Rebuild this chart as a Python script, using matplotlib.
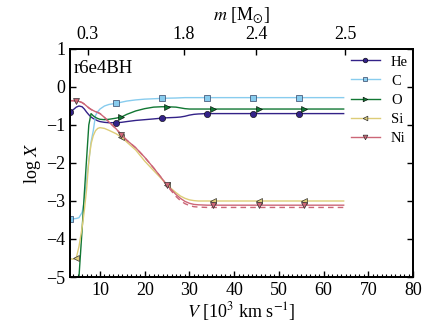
import matplotlib
matplotlib.use('Agg')
import matplotlib.pyplot as plt

plt.rcParams['font.family'] = ['Liberation Serif', 'DejaVu Serif']
plt.rcParams['mathtext.fontset'] = 'stix'

# Data (velocity grid in 10^3 km/s, log mass fractions)
v = [3.3, 4.0, 4.7, 5.3, 6.0, 6.5, 7.0, 7.5, 8.0, 8.5, 9.0, 9.5, 10.0, 11.0, 12.0,
     13.6, 14.8, 16.0, 18.0, 20.0, 22.0, 23.8, 25.0, 27.0, 28.0, 29.0, 30.0, 31.0,
     32.0, 34.0, 35.3, 40.0, 44.2, 45.5, 50.0, 54.4, 55.6, 60.0, 64.5]

he = [-0.65, -0.60, -0.53, -0.50, -0.52, -0.58, -0.66, -0.73, -0.79, -0.83, -0.86,
      -0.89, -0.91, -0.93, -0.94, -0.94, -0.93, -0.91, -0.88, -0.86, -0.84, -0.82,
      -0.81, -0.80, -0.79, -0.77, -0.74, -0.72, -0.71, -0.70, -0.70, -0.70, -0.70,
      -0.70, -0.70, -0.70, -0.70, -0.70, -0.70]
c = [-3.47, -3.47, -3.46, -3.44, -3.30, -3.00, -2.45, -1.95, -1.45, -1.15, -0.75,
     -0.65, -0.58, -0.50, -0.46, -0.43, -0.40, -0.37, -0.34, -0.32, -0.31, -0.30,
     -0.295, -0.29, -0.285, -0.28, -0.28, -0.28, -0.28, -0.28, -0.28, -0.28, -0.28,
     -0.28, -0.28, -0.28, -0.28, -0.28, -0.28]
o = [-7.0, -6.5, -5.8, -5.0, -3.75, -2.8, -1.9, -1.0, -0.70, -0.76, -0.80, -0.83,
     -0.85, -0.86, -0.85, -0.82, -0.79, -0.72, -0.63, -0.57, -0.53, -0.52, -0.52,
     -0.53, -0.55, -0.57, -0.58, -0.58, -0.58, -0.58, -0.58, -0.58, -0.58, -0.58,
     -0.58, -0.58, -0.58, -0.58, -0.58]
si = [-4.52, -4.53, -4.50, -4.20, -3.70, -3.25, -2.70, -1.95, -1.50, -1.28, -1.15,
      -1.09, -1.07, -1.09, -1.14, -1.23, -1.32, -1.45, -1.66, -1.95, -2.20, -2.42,
      -2.58, -2.78, -2.87, -2.93, -2.97, -2.99, -3.00, -3.00, -3.00, -3.00, -3.00,
      -3.00, -3.00, -3.00, -3.00, -3.00, -3.00]
ni = [-0.36, -0.36, -0.37, -0.38, -0.41, -0.45, -0.50, -0.55, -0.59, -0.62, -0.65,
      -0.67, -0.70, -0.80, -0.92, -1.10, -1.26, -1.40, -1.60, -1.85, -2.13, -2.40,
      -2.58, -2.83, -2.93, -3.01, -3.06, -3.09, -3.10, -3.11, -3.11, -3.11, -3.11,
      -3.11, -3.11, -3.11, -3.11, -3.11, -3.11]
ni_dashed = [-0.36, -0.36, -0.37, -0.38, -0.41, -0.45, -0.50, -0.55, -0.59, -0.62,
             -0.65, -0.67, -0.70, -0.80, -0.92, -1.10, -1.26, -1.40, -1.60, -1.85,
             -2.13, -2.40, -2.60, -2.88, -2.99, -3.07, -3.12, -3.15, -3.16, -3.17,
             -3.17, -3.17, -3.17, -3.17, -3.17, -3.17, -3.17, -3.17, -3.17]

marks_a = [0, 15, 21, 29, 32, 35]   # He, C
marks_b = [2, 16, 22, 30, 33, 36]   # O, Si, Ni

# top axis: enclosed mass labels at velocity positions
m_tick_v = [7.3, 28.8, 45.0, 64.8]
m_tick_labels = ['0.3', '1.8', '2.4', '2.5']

fig = plt.figure(figsize=(4.36, 3.27), dpi=100)
ax = fig.add_axes([0.1606, 0.1529, 0.7866, 0.6973])

ms = 4.5
ax.plot(v, ni_dashed, color='#CC6677', lw=1.0, ls='--', dashes=(4, 3))
ax.plot(v, he, color='#332288', lw=1.0, marker='o', ms=ms, mec='k', mew=0.4,
        markevery=marks_a, label='He')
ax.plot(v, c, color='#88CCEE', lw=1.0, marker='s', ms=ms, mec='#334466', mew=0.5,
        markevery=marks_a, label='C')
ax.plot(v, o, color='#117733', lw=1.0, marker='>', ms=ms, mec='k', mew=0.4,
        markevery=marks_b, label='O')
ax.plot(v, si, color='#DDCC77', lw=1.0, marker='<', ms=ms, mec='#333333', mew=0.5,
        markevery=marks_b, label='Si')
ax.plot(v, ni, color='#CC6677', lw=1.0, marker='v', ms=ms, mec='#333333', mew=0.5,
        markevery=marks_b, label='Ni')

ax.set_xlim(3.3, 80)
ax.set_ylim(-5, 1)
ax.set_xticks([10, 20, 30, 40, 50, 60, 70, 80])
ax.set_xticks(range(4, 81), minor=True)
ax.set_yticks([-5, -4, -3, -2, -1, 0, 1])
ax.tick_params(which='both', direction='in', right=True, top=False, labelsize=13)
ax.tick_params(which='major', length=4, width=1.0)
ax.tick_params(which='minor', length=2, width=0.8)
for s in ax.spines.values():
    s.set_linewidth(1.3)

ax.set_xlabel(r'$V$ [10$^3$ km s$^{-1}$]', fontsize=13, labelpad=1)
ax.set_ylabel(r'log $X$', fontsize=13, labelpad=2)
ax.text(0.01, 0.895, 'r6e4BH', transform=ax.transAxes, fontsize=13.5)

ax2 = ax.twiny()
ax2.set_xlim(ax.get_xlim())
ax2.set_xticks(m_tick_v)
ax2.set_xticklabels(m_tick_labels)
ax2.tick_params(direction='in', length=4, width=1.0, labelsize=13, pad=4)
ax2.set_xlabel(r'$m$ [M$_{\odot}$]', fontsize=13, labelpad=5)
for s in ax2.spines.values():
    s.set_linewidth(1.3)

ax.legend(loc='upper right', bbox_to_anchor=(0.994, 0.985), frameon=False,
          fontsize=10.5, handlelength=2.0, handletextpad=0.75, labelspacing=0.4,
          numpoints=1, borderaxespad=0, borderpad=0.2, markerscale=0.75)

fig.savefig('out.png', dpi=100)
